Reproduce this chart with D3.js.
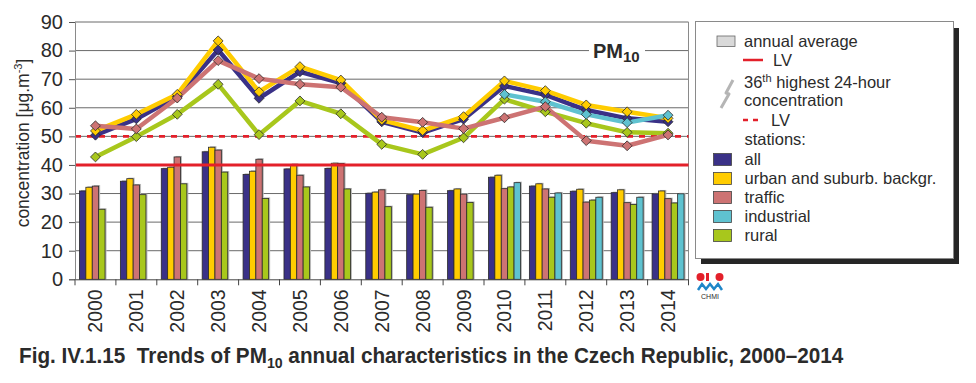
<!DOCTYPE html>
<html><head><meta charset="utf-8">
<script src="https://cdn.jsdelivr.net/npm/d3@7"></script>
<style>
html,body{margin:0;padding:0;background:#fff;}
svg text{font-family:"Liberation Sans",Arial,Helvetica,sans-serif;fill:#2b2b2b;}
</style></head>
<body><svg id="c" width="976" height="383"></svg>
<script>
const years = ["2000","2001","2002","2003","2004","2005","2006","2007","2008","2009","2010","2011","2012","2013","2014"];
const yTicks = [0,10,20,30,40,50,60,70,80,90];
const seriesKeys = ["all","urban","traffic","rural","industrial"];
const legendOrder = ["all","urban","traffic","industrial","rural"];
const seriesNames = {all:"all",urban:"urban and suburb. backgr.",traffic:"traffic",industrial:"industrial",rural:"rural"};
const seriesColors = {all:"#3a3187",urban:"#ffcc00",traffic:"#cd7373",industrial:"#5fc2d0",rural:"#a8c71c"};
// annual averages
const avgAll = [30.9,34.3,38.7,44.6,36.7,38.6,38.8,30.1,29.6,31.0,35.7,32.6,30.8,30.3,29.9];
const avgUrban = [32.2,35.2,39.2,46.2,37.8,40.2,40.6,30.5,29.8,31.6,36.4,33.4,31.5,31.3,30.9];
const avgTraffic = [32.6,33.0,42.8,45.2,42.0,36.4,40.5,31.3,31.1,29.8,31.7,31.6,27.0,26.8,28.2];
const avgRural = [24.5,29.6,33.4,37.5,28.3,32.3,31.6,25.4,25.2,26.9,32.3,28.7,27.7,26.2,26.7];
const avgIndustrial = [null,null,null,null,null,null,null,null,null,null,33.8,30.2,28.7,28.7,29.9];
// 36th highest 24-hour concentration
const p36All = [50.4,56.1,63.9,80.2,63.3,72.6,68.6,55.1,51.3,56.0,67.6,64.5,59.2,56.3,55.1];
const p36Urban = [51.9,57.7,64.7,83.4,65.6,74.4,69.7,55.7,52.0,56.9,69.4,66.0,61.0,58.6,56.3];
const p36Traffic = [53.7,52.6,63.4,76.5,70.2,68.2,67.2,56.7,54.9,52.7,56.5,60.4,48.5,46.7,50.5];
const p36Rural = [42.8,49.9,57.7,68.2,50.6,62.4,57.9,47.2,43.7,49.5,63.0,58.6,54.6,51.4,51.1];
const p36Industrial = [null,null,null,null,null,null,null,null,null,null,64.7,62.1,57.7,54.8,57.4];
const lvAnnual = 40;
const lv24h = 50;

const avg = {all:avgAll,urban:avgUrban,traffic:avgTraffic,rural:avgRural,industrial:avgIndustrial};
const p36 = {all:p36All,urban:p36Urban,traffic:p36Traffic,rural:p36Rural,industrial:p36Industrial};

const svg = d3.select("#c");
svg.append("rect").attr("width",976).attr("height",383).attr("fill","#fff");

const L=75, R=688.5, T=22, B=279.3;
const x = d3.scaleBand().domain(years).range([L,R]).padding(0);
const xs = d3.scaleBand().domain(seriesKeys).range([0,x.bandwidth()]).paddingInner(0).paddingOuter(0.7);
const y = d3.scaleLinear().domain([0,90]).range([B,T]);

// gridlines
svg.append("g").selectAll("line").data(yTicks.filter(d=>d>0)).join("line")
  .attr("x1",L).attr("x2",R).attr("y1",d=>y(d)).attr("y2",d=>y(d))
  .attr("stroke","#6a6a6a").attr("stroke-width",1);
// right border
svg.append("line").attr("x1",R).attr("x2",R).attr("y1",T).attr("y2",B).attr("stroke","#8a8a8a");

// bars
const gBars = svg.append("g");
years.forEach((yr,i)=>{
  seriesKeys.forEach(k=>{
    const v = avg[k][i];
    if(v==null) return;
    const bx = x(yr)+xs(k), bw = xs.bandwidth();
    gBars.append("rect").attr("x",bx+1.5).attr("y",y(v)-1).attr("width",bw).attr("height",B-y(v)+1)
      .attr("fill","#b8b8b8");
    gBars.append("rect").attr("x",bx).attr("y",y(v)).attr("width",bw).attr("height",B-y(v))
      .attr("fill",seriesColors[k]).attr("stroke","#2a2a2a").attr("stroke-width",0.8);
  });
});

// limit lines
svg.append("line").attr("x1",L).attr("x2",R).attr("y1",y(lvAnnual)).attr("y2",y(lvAnnual))
  .attr("stroke","#e3202a").attr("stroke-width",3);
svg.append("line").attr("x1",L).attr("x2",R).attr("y1",y(lv24h)).attr("y2",y(lv24h))
  .attr("stroke","#e3202a").attr("stroke-width",2.6).attr("stroke-dasharray","6,6");

// PM10 label
const pmG = svg.append("g");
pmG.append("rect").attr("x",589).attr("y",38).attr("width",56).attr("height",26).attr("fill","#fff");
const pmT = pmG.append("text").attr("x",593).attr("y",57.5).attr("font-size",20).attr("font-weight","bold").attr("fill","#2b2b2b");
pmT.append("tspan").text("PM");
pmT.append("tspan").attr("dy",4.5).attr("font-size",15).text("10");

// lines
const lineOrder = ["all","urban","rural","industrial","traffic"];
const line = d3.line().defined(d=>d.v!=null).x(d=>x(d.yr)+x.bandwidth()/2).y(d=>y(d.v));
const diamond = d3.symbol().type(d3.symbolDiamond2).size(62);
lineOrder.forEach(k=>{
  const data = years.map((yr,i)=>({yr, v:p36[k][i]}));
  svg.append("path").datum(data).attr("d",line).attr("fill","none")
    .attr("stroke",seriesColors[k]).attr("stroke-width",4.5).attr("stroke-linejoin","round");
});
lineOrder.forEach(k=>{
  const data = years.map((yr,i)=>({yr, v:p36[k][i]})).filter(d=>d.v!=null);
  svg.append("g").selectAll("path").data(data).join("path")
    .attr("d",diamond).attr("transform",d=>`translate(${x(d.yr)+x.bandwidth()/2},${y(d.v)})`)
    .attr("fill",seriesColors[k]).attr("stroke","#2a2a2a").attr("stroke-width",0.8);
});

// axes
const yAxis = svg.append("g").attr("transform",`translate(${L},0)`)
  .call(d3.axisLeft(y).tickValues(yTicks).tickSize(6).tickPadding(6));
yAxis.select(".domain").attr("stroke","#8a8a8a");
yAxis.selectAll(".tick line").attr("stroke","#555");
yAxis.selectAll(".tick text").attr("font-size",20).attr("fill","#2b2b2b").attr("font-family","Liberation Sans, Arial, sans-serif");

const xAxis = svg.append("g").attr("transform",`translate(0,${B})`)
  .call(d3.axisBottom(x).tickSize(0).tickPadding(0));
xAxis.select(".domain").attr("stroke","#444");
xAxis.selectAll(".tick text").attr("font-size",19.5).attr("fill","#2b2b2b")
  .attr("font-family","Liberation Sans, Arial, sans-serif")
  .attr("text-anchor","end").attr("transform","translate(0,10) rotate(-90)").attr("dy","0.36em").attr("x",0).attr("y",0);
// boundary ticks
const bounds = years.map(yr=>x(yr)).concat([R]);
svg.append("g").selectAll("line").data(bounds).join("line")
  .attr("x1",d=>d).attr("x2",d=>d).attr("y1",B).attr("y2",B+6).attr("stroke","#444");

// y title
const yt = svg.append("text").attr("transform","translate(29,143) rotate(-90)").attr("text-anchor","middle")
  .attr("font-size",17.5).attr("fill","#2b2b2b");
yt.append("tspan").text("concentration [μg.m");
yt.append("tspan").attr("font-size",11).attr("dy",-7).text("-3");
yt.append("tspan").attr("dy",7).text("]");

// legend
const lg = svg.append("g");
lg.append("rect").attr("x",701).attr("y",28).attr("width",258).attr("height",236).attr("fill","#262626");
lg.append("rect").attr("x",695.5).attr("y",21.5).attr("width",258).attr("height",237).attr("fill","#fff").attr("stroke","#8a8a8a");
lg.append("rect").attr("x",717).attr("y",36).attr("width",18).attr("height",10.5).attr("fill","#d9d9d9").attr("stroke","#666").attr("stroke-width",0.8);
const lt = (xx,yy,s)=>lg.append("text").attr("x",xx).attr("y",yy).attr("font-size",16.5).attr("fill","#2b2b2b").text(s);
lt(744,47,"annual average");
lg.append("line").attr("x1",743).attr("x2",763).attr("y1",60).attr("y2",60).attr("stroke","#e3202a").attr("stroke-width",2.5);
lt(773,66,"LV");
lg.append("path").attr("d","M733,80 L726,93 L729,94 L721,108").attr("fill","none").attr("stroke","#b5b5b5").attr("stroke-width",3).attr("stroke-linejoin","round");
const t36 = lg.append("text").attr("x",744).attr("y",87.5).attr("font-size",16.5).attr("fill","#2b2b2b");
t36.append("tspan").text("36");
t36.append("tspan").attr("font-size",11).attr("dy",-6).text("th");
t36.append("tspan").attr("dy",6).text(" highest 24-hour");
lt(744,105.5,"concentration");
lg.append("line").attr("x1",743).attr("x2",760).attr("y1",120).attr("y2",120).attr("stroke","#e3202a").attr("stroke-width",2.5).attr("stroke-dasharray","5,5");
lt(771,126,"LV");
lt(744.5,144.5,"stations:");
legendOrder.forEach((k,i)=>{
  const yy = 153.5 + i*19;
  lg.append("rect").attr("x",713.5).attr("y",yy).attr("width",18).attr("height",12).attr("fill",seriesColors[k]).attr("stroke","#444").attr("stroke-width",0.8);
  lt(744.5,yy+11,seriesNames[k]);
});

// CHMI logo
const lo = svg.append("g");
lo.append("circle").attr("cx",700.5).attr("cy",277).attr("r",4).attr("fill","#e3202a");
lo.append("rect").attr("x",706).attr("y",273).attr("width",3).attr("height",8).attr("fill","#e3202a");
lo.append("circle").attr("cx",719.5).attr("cy",277).attr("r",4).attr("fill","#e3202a");
lo.append("path").attr("d","M698,290 L702,284 L706,289 L710,284 L714,289 L718,284 L722,290").attr("fill","none").attr("stroke","#1f86c8").attr("stroke-width",2.5);
lo.append("text").attr("x",710).attr("y",299).attr("text-anchor","middle").attr("font-size",7).attr("fill","#333").text("CHMI");

// caption
const cap = svg.append("text").attr("x",0).attr("y",0).attr("font-size",22).attr("font-weight","bold").attr("fill","#2b2b2b").attr("xml:space","preserve").style("white-space","pre");
cap.append("tspan").text("Fig. IV.1.15  Trends of PM");
cap.append("tspan").attr("font-size",15).attr("dy",5).text("10");
cap.append("tspan").attr("dy",-5).text(" annual characteristics in the Czech Republic, 2000–2014");
const w = cap.node().getComputedTextLength();
cap.attr("transform",`translate(19,362.5) scale(${825/w},1)`);
</script></body></html>
